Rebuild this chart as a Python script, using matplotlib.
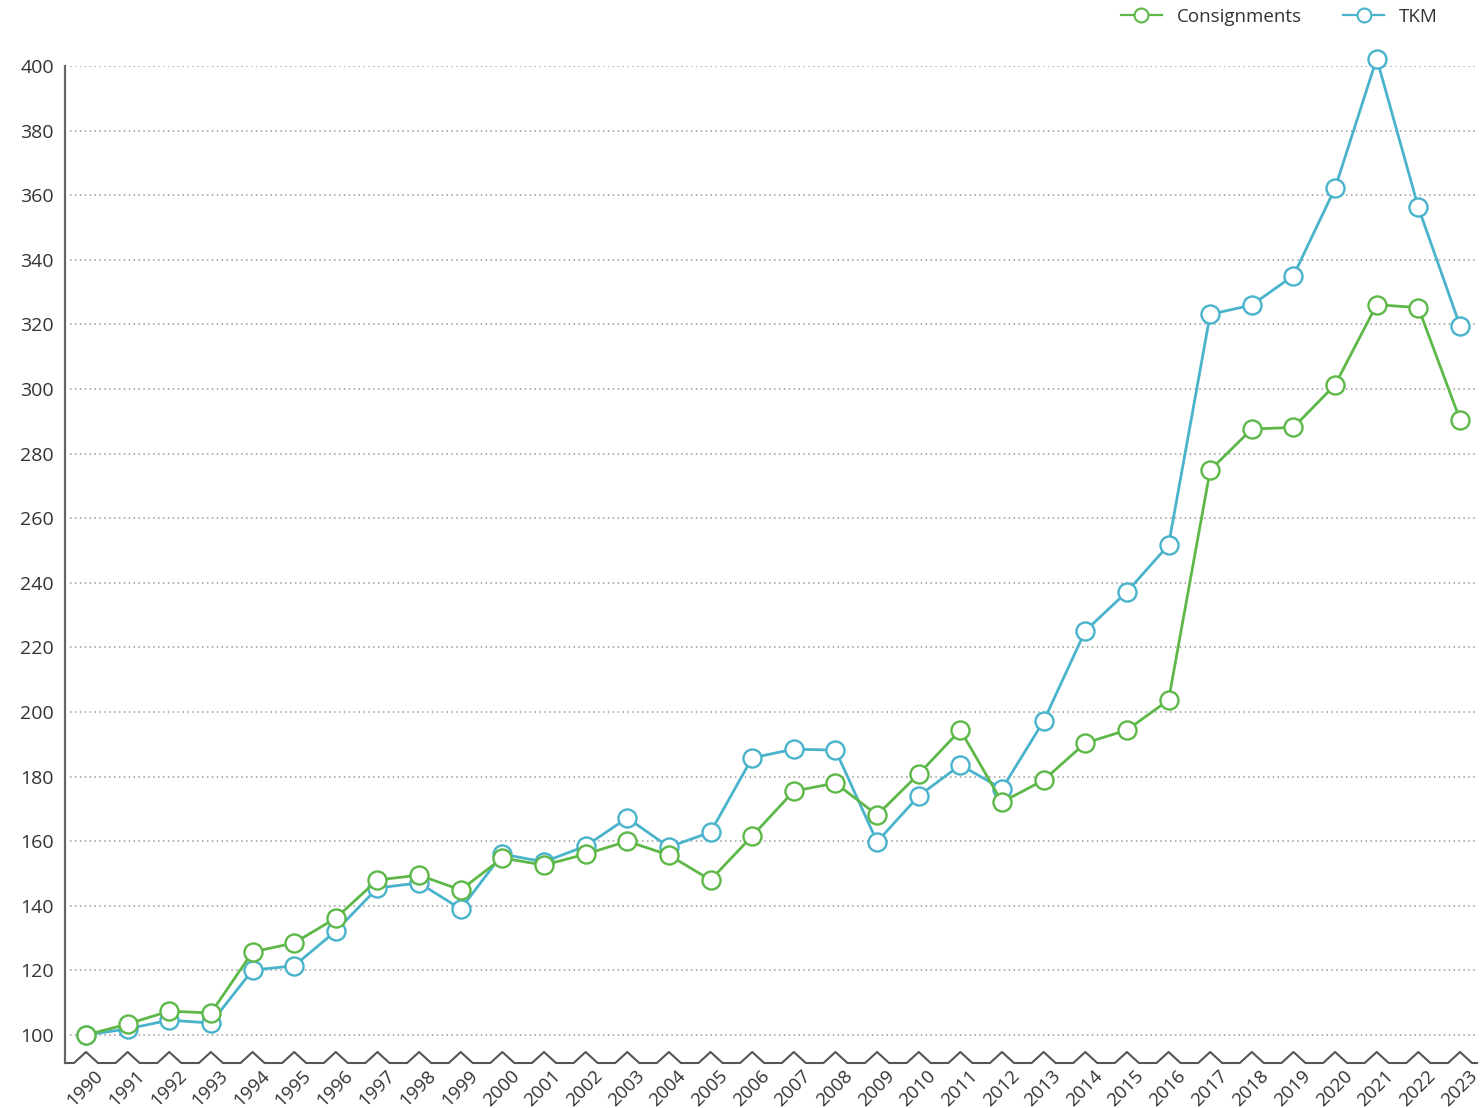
import numpy as np
import matplotlib
matplotlib.use("Agg")
from matplotlib import pyplot as plt
from matplotlib.lines import Line2D
from matplotlib.transforms import offset_copy

plt.rcParams['font.family'] = ['Open Sans', 'DejaVu Sans']

years = list(range(1990, 2024))

consignments = [100, 103.4, 107.4, 106.8, 125.7, 128.5, 136.2, 148, 149.5, 144.9,
                154.8, 152.6, 156, 160, 155.7, 148, 161.6, 175.5, 178, 168.1,
                180.8, 194.4, 172.1, 178.9, 190.4, 194.4, 203.7, 274.9, 287.6, 288.1,
                301.3, 326.1, 325.2, 290.5]

tkm = [100, 101.9, 104.6, 103.7, 120.1, 121.4, 132.2, 145.5, 147.1, 139,
       156, 153.6, 158.5, 167.2, 158.2, 162.8, 185.8, 188.5, 188.2, 159.8,
       174, 183.6, 176.2, 197.2, 225.1, 237.2, 251.7, 323.1, 326, 335.1,
       362.2, 402.3, 356.2, 319.6]

series_names = ['Consignments', 'TKM']
green = '#5db848'
blue = '#4ab3cc'

W, H = 1481, 1108
fig = plt.figure(figsize=(W / 100, H / 100), dpi=100)

# axes placed in pixels
left, right, top, bottom = 65, 1477, 66, 1063
ax = fig.add_axes([left / W, 1 - bottom / H, (right - left) / W, (bottom - top) / H])

px_per_year = (1460 - 86) / 33
px_per_unit = (1035 - 66) / 300
x0 = 1990 - (86 - left) / px_per_year
x1 = 2023 + (right - 1460) / px_per_year
y0 = 100 - (bottom - 1035) / px_per_unit
ax.set_xlim(x0, x1)
ax.set_ylim(y0, 400)

for v in range(100, 401, 20):
    ax.plot([x0 + 5 / px_per_year, x1], [v, v], color='#9a9a9a', lw=1.1,
            linestyle=(0, (1, 2.2)), zorder=1)

for vals, col in [(tkm, blue), (consignments, green)]:
    ax.plot(years, vals, color=col, lw=2.0, marker='o', markersize=13,
            markerfacecolor='white', markeredgecolor=col, markeredgewidth=1.7,
            clip_on=False, zorder=3)

# zigzag baseline
hw = 12 / px_per_year
peak = 11 / px_per_unit
zx = [x0]
zy = [y0]
for yr in years:
    zx += [yr - hw, yr, yr + hw]
    zy += [y0, y0 + peak, y0]
zx.append(x1)
zy.append(y0)
ax.plot(zx, zy, color='#555555', lw=1.5, clip_on=False, zorder=2)

for s in ['top', 'right', 'bottom']:
    ax.spines[s].set_visible(False)
ax.spines['left'].set_color('#666666')
ax.spines['left'].set_linewidth(1.6)

ax.set_yticks(range(100, 401, 20))
ax.tick_params(axis='y', length=0, pad=8, labelsize=14, labelcolor='#333333')
ax.set_xticks([])

trans = offset_copy(ax.transData, fig=fig, x=8, y=-4, units='dots')
for yr in years:
    ax.text(yr, y0, str(yr), rotation=45, ha='right', va='top',
            rotation_mode='anchor', fontsize=13.5, color='#333333',
            transform=trans, clip_on=False)

handles = [Line2D([], [], color=c, lw=1.6, marker='o', markersize=10,
                  markerfacecolor='white', markeredgecolor=c, markeredgewidth=1.5)
           for c in [green, blue]]
fig.legend(handles, series_names, loc='upper right', bbox_to_anchor=(1455 / W, 1.008),
           ncol=2, frameon=False, fontsize=13.5, handlelength=2.2, columnspacing=2.2,
           labelcolor='#333333')

fig.savefig('out.png', dpi=100)
